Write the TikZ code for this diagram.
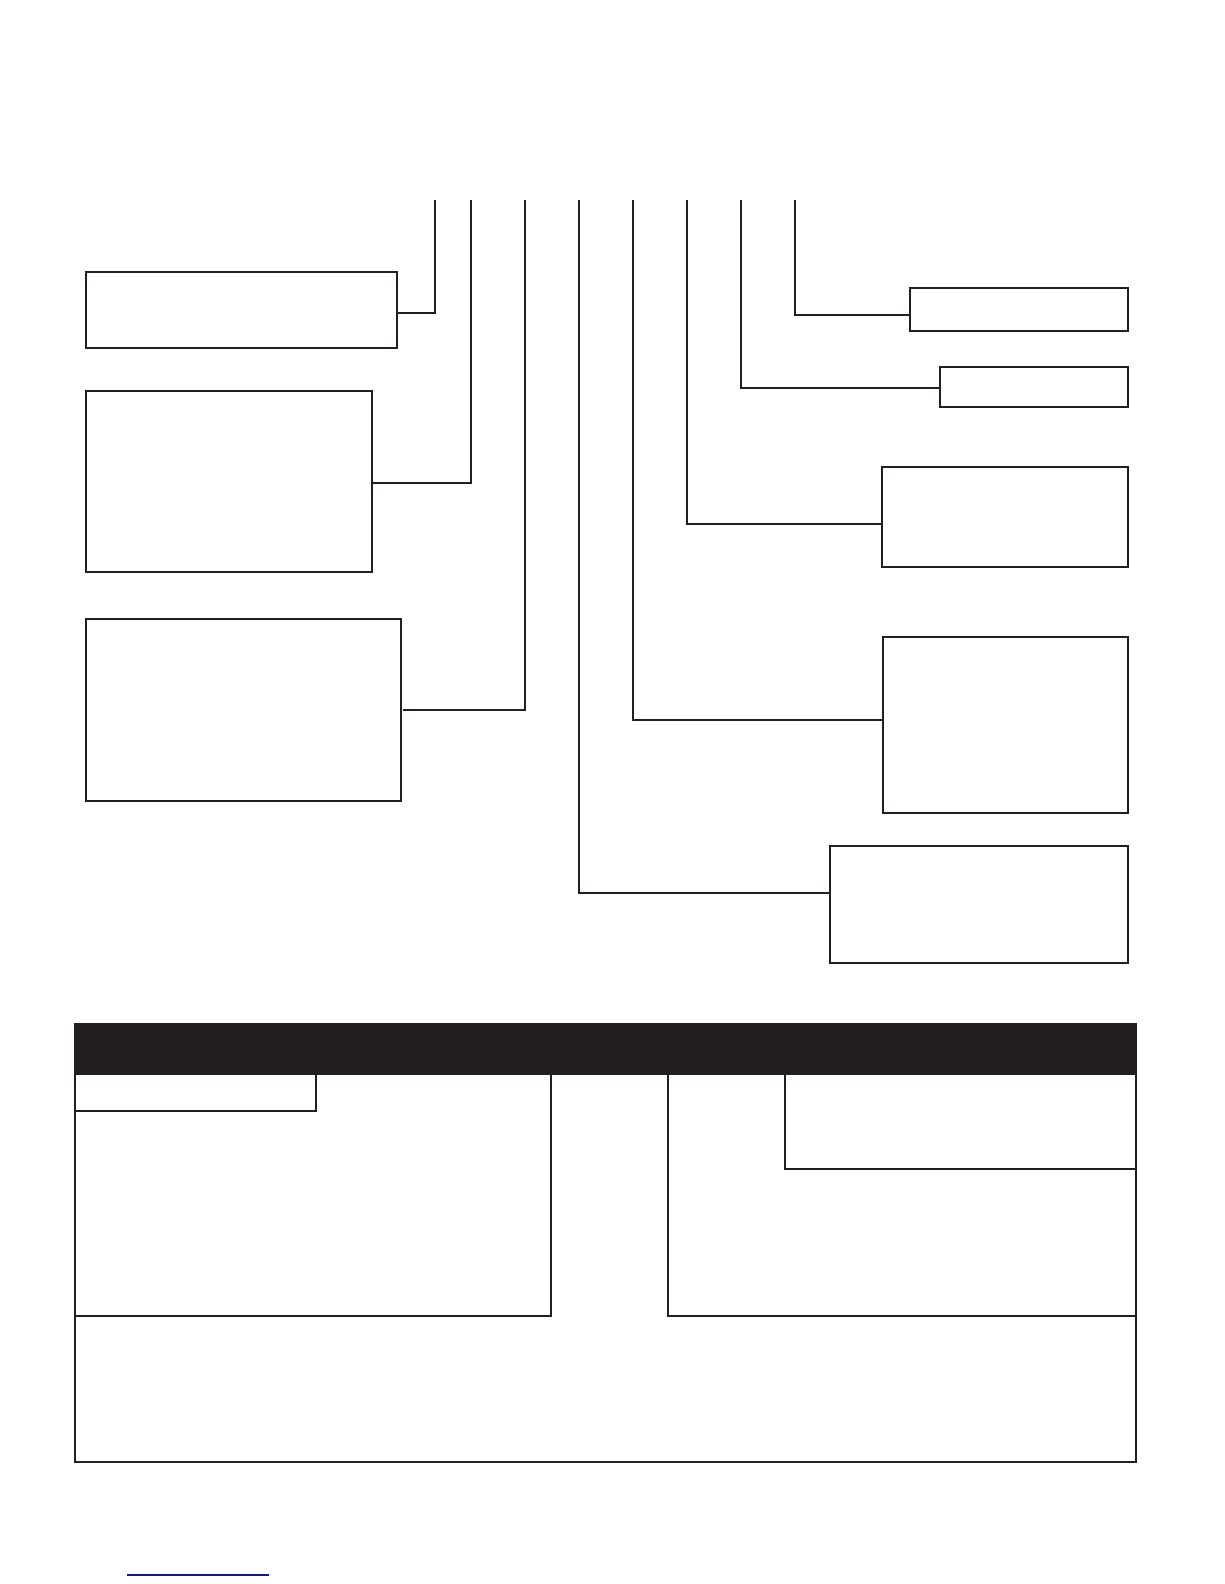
\documentclass[tikz,border=0pt]{standalone}
\usepackage{tikz}
\usetikzlibrary{positioning}

\definecolor{ink}{HTML}{231F20}
\definecolor{linkblue}{HTML}{1010B4}

\begin{document}
\begin{tikzpicture}[
        x=1pt, y=-1pt,
        box/.style={draw=ink, line width=1.8pt, rectangle, inner sep=0pt, outer sep=0pt, anchor=north west},
        lead/.style={draw=ink, line width=1.8pt},
        frame/.style={draw=ink, line width=1.3pt}
      ]
        \useasboundingbox (0,0) rectangle (1224,1584);

        % tops of the leads
        \foreach \n/\x in {A/435,B/471,C/525,D/579,E/633,F/687,G/741,H/795}
          \coordinate (t\n) at (\x,200);

        % left boxes
        \node[box, minimum width=311pt, minimum height=76pt] (boxA) at (86,272) {};
        \node[box, minimum width=286pt, minimum height=181pt] (boxB) at (86,391) {};
        \node[box, minimum width=315pt, minimum height=182pt] (boxC) at (86,619) {};

        % right boxes
        \node[box, minimum width=218pt, minimum height=43pt] (boxH) at (910,288) {};
        \node[box, minimum width=188pt, minimum height=40pt] (boxG) at (940,367) {};
        \node[box, minimum width=246pt, minimum height=100pt] (boxF) at (882,467) {};
        \node[box, minimum width=245pt, minimum height=176pt] (boxE) at (883,637) {};
        \node[box, minimum width=298pt, minimum height=117pt] (boxD) at (830,846) {};

        % leads
        \draw[lead] (tA) |- (boxA.east |- 0,313);
        \draw[lead] (tB) |- (boxB.east |- 0,483);
        \draw[lead] (tC) |- ([xshift=2pt]boxC.east |- 0,710);
        \draw[lead] (tD) |- (boxD.west |- 0,893);
        \draw[lead] (tE) |- (boxE.west |- 0,720);
        \draw[lead] (tF) |- (boxF.west |- 0,524);
        \draw[lead] (tG) |- (boxG.west |- 0,388);
        \draw[lead] (tH) |- (boxH.west |- 0,315);

        % table
        \node[box, fill=ink, minimum width=1061pt, minimum height=50pt] (head) at (75,1024) {};
        \node[box, minimum width=476pt, minimum height=242pt] (left) at (head.south west) {};
        \node[box, minimum width=241pt, minimum height=37pt] (leftcap) at (head.south west) {};
        \coordinate (rightcorner) at (668,1074);
        \node[box, minimum width=468pt, minimum height=242pt] (right) at (rightcorner) {};
        \coordinate (rightcapcorner) at (785,1074);
        \node[box, minimum width=351pt, minimum height=95pt] (rightcap) at (rightcapcorner) {};
        \coordinate (foot) at (75,1462);
        \draw[frame] (left.south west) -- (foot) -- (foot -| right.south east) -- (right.south east);

        % link underline
        \coordinate (linkA) at (127,1575);
        \coordinate (linkB) at (269,1575);
        \draw[linkblue, line width=1.4pt] (linkA) -- (linkB);
      \end{tikzpicture}
\end{document}
